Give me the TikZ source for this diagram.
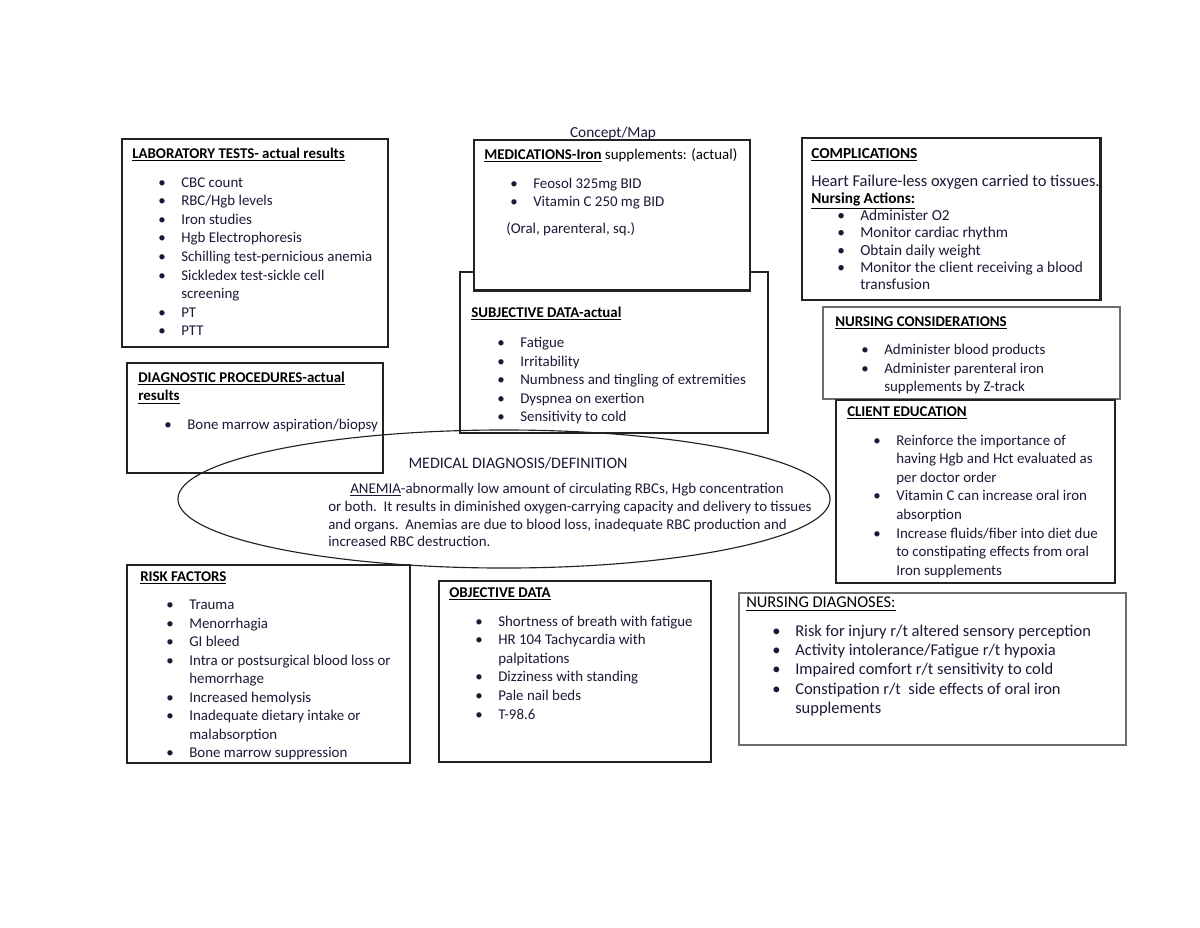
\documentclass[tikz,border=0pt]{standalone}
\usepackage{fontspec}
\setmainfont{Carlito}
\usetikzlibrary{positioning, fit, shapes.geometric}
\definecolor{inkA}{HTML}{1A1A36}
\definecolor{frameA}{HTML}{222222}
\definecolor{frameB}{HTML}{6E6E6E}
\newcommand{\itm}{\hspace*{0.65cm}\makebox[0.575cm][l]{\textbullet}}
\newcommand{\cnt}{\hspace*{1.225cm}}
\newcommand{\hd}[1]{\textcolor{black}{\underline{\textbf{#1}}}}
\tikzset{
  panel/.style={draw=frameA, line width=0.9pt, fill=white, inner sep=0pt},
  body/.style={anchor=north west, align=left, inner sep=0pt, text=inkA,
    font=\fontsize{10.6}{13.2}\selectfont},
}
\begin{document}
\begin{tikzpicture}[x=0.025cm, y=-0.025cm]
  \useasboundingbox[fill=white] (0,0) rectangle (1200,927);

  % boxes
  \node[panel, fit={(122,139) (388,347)}] (lab) {};
  \node[panel, fit={(127,363) (383,473)}] (proc) {};
  \node[panel, fit={(460,272) (768,433)}] (subj) {};
  \node[panel, fit={(474,140) (750,290)}] (meds) {};
  \draw[frameA, line width=1.6pt] (meds.south west) -- (meds.south east);
  \node[panel, fit={(802,138) (1100,300)}] (compl) {};
  \draw[frameA, line width=1.6pt] (compl.north east) -- (compl.south east);
  \node[panel, draw=frameB, fit={(823,307) (1120,399)}] (cons) {};
  \node[panel, fit={(836,400) (1115,583)}] (edu) {};
  \node[panel, fit={(127,565) (410,763)}] (risk) {};
  \node[panel, fit={(439,581) (711,762)}] (obj) {};
  \node[panel, draw=frameB, fit={(739,593) (1126,745)}] (nurs) {};
  \node[draw=frameA, line width=0.8pt, ellipse, minimum width=16.3cm,
    minimum height=3.45cm, inner sep=0pt] (diagnosis) at (504,499) {};

  \node[font=\fontsize{10.9}{12}\selectfont, text=inkA] (title) at (613,133) {Concept/Map};

  % texts
  \node[body] (labtxt) at (132,145) {\strut\hd{LABORATORY TESTS- actual results}\\[0.26cm]
    \itm CBC count\\
    \itm RBC/Hgb levels\\
    \itm Iron studies\\
    \itm Hgb Electrophoresis\\
    \itm Schilling test-pernicious anemia\\
    \itm Sickledex test-sickle cell\\
    \cnt screening\\
    \itm PT\\
    \itm PTT};

  \node[body] (proctxt) at (138,369) {\strut\hd{DIAGNOSTIC PROCEDURES-actual}\\
    \hd{results}\\[0.26cm]
    \itm Bone marrow aspiration/biopsy};

  \node[body] (medstxt) at (484,146) {\strut\textcolor{black}{\underline{\textbf{MEDICATIONS-Iron}} supplements: (actual)}\\[0.26cm]
    \itm Feosol 325mg BID\\
    \itm Vitamin C 250 mg BID\\[0.21cm]
    \hspace*{0.55cm}(Oral, parenteral, sq.)};

  \node[body] (subjtxt) at (471,304) {\strut\hd{SUBJECTIVE DATA-actual}\\[0.29cm]
    \itm Fatigue\\
    \itm Irritability\\
    \itm Numbness and tingling of extremities\\
    \itm Dyspnea on exertion\\
    \itm Sensitivity to cold};

  \node[body, font=\fontsize{10.9}{12.3}\selectfont] (compltxt) at (811,146) {\strut\hd{COMPLICATIONS}\\[0.26cm]
    {\fontsize{11.7}{12.3}\selectfont Heart Failure-less oxygen carried to tissues.}\\
    \hd{Nursing Actions:}\\
    \itm Administer O2\\
    \itm Monitor cardiac rhythm\\
    \itm Obtain daily weight\\
    \itm Monitor the client receiving a blood\\
    \cnt transfusion};

  \node[body] (constxt) at (835,313) {\strut\hd{NURSING CONSIDERATIONS}\\[0.24cm]
    \itm Administer blood products\\
    \itm Administer parenteral iron\\
    \cnt supplements by Z-track};

  \node[body] (edutxt) at (847,403) {\strut\hd{CLIENT EDUCATION}\\[0.26cm]
    \itm Reinforce the importance of\\
    \cnt having Hgb and Hct evaluated as\\
    \cnt per doctor order\\
    \itm Vitamin C can increase oral iron\\
    \cnt absorption\\
    \itm Increase fluids/fiber into diet due\\
    \cnt to constipating effects from oral\\
    \cnt Iron supplements};

  \node[font=\fontsize{11.4}{12}\selectfont, text=inkA] (diagtitle) at (518,463) {MEDICAL DIAGNOSIS/DEFINITION};
  \node[body, font=\fontsize{10.6}{12.6}\selectfont] (diagtxt) at (328,481) {\strut\hspace*{0.55cm}\underline{ANEMIA}-abnormally low amount of circulating RBCs, Hgb concentration\\
    or both.\ \ It results in diminished oxygen-carrying capacity and delivery to tissues\\
    and organs.\ \ Anemias are due to blood loss, inadequate RBC production and\\
    increased RBC destruction.};

  \node[body] (risktxt) at (140,568) {\strut\hd{RISK FACTORS}\\[0.24cm]
    \itm Trauma\\
    \itm Menorrhagia\\
    \itm GI bleed\\
    \itm Intra or postsurgical blood loss or\\
    \cnt hemorrhage\\
    \itm Increased hemolysis\\
    \itm Inadequate dietary intake or\\
    \cnt malabsorption\\
    \itm Bone marrow suppression};

  \node[body] (objtxt) at (449,584) {\strut\hd{OBJECTIVE DATA}\\[0.26cm]
    \itm Shortness of breath with fatigue\\
    \itm HR 104 Tachycardia with\\
    \cnt palpitations\\
    \itm Dizziness with standing\\
    \itm Pale nail beds\\
    \itm T-98.6};

  \node[body, font=\fontsize{11.7}{13.8}\selectfont] (nurstxt) at (746,594) {\strut\textcolor{black}{\underline{NURSING DIAGNOSES:}}\\[0.22cm]
    \itm Risk for injury r/t altered sensory perception\\
    \itm Activity intolerance/Fatigue r/t hypoxia\\
    \itm Impaired comfort r/t sensitivity to cold\\
    \itm Constipation r/t\ \ side effects of oral iron\\
    \cnt supplements};
\end{tikzpicture}
\end{document}
